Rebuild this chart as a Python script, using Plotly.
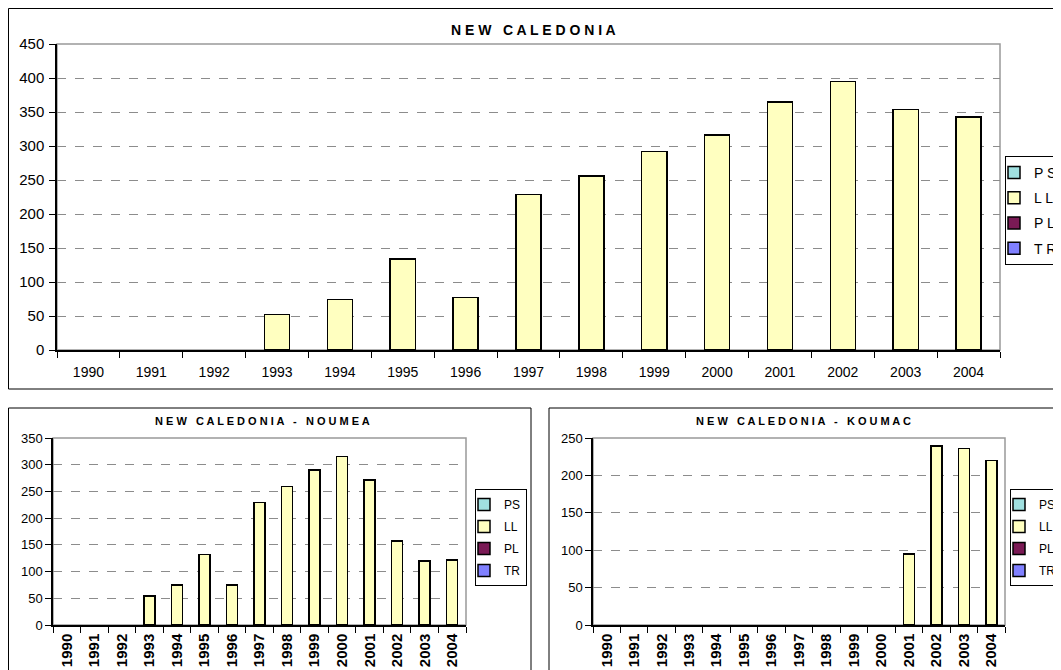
import plotly.graph_objects as go

W, H = 1061, 670
OFF = 8  # page offset of the figure inside the browser window

years = [str(y) for y in range(1990, 2005)]
series_names = ["PS", "LL", "PL", "TR"]
series_colors = ["#A0E0E0", "#FFFFC0", "#7A1A55", "#8080FF"]

nc_ll = [None, None, None, 52, 74, 134, 77, 229, 256, 292, 316, 365, 395, 354, 343]
noumea_ll = [None, None, None, 54, 75, 132, 75, 229, 259, 290, 315, 271, 157, 120, 122]
koumac_ll = [None] * 11 + [95, 239, 236, 220]
empty = [None] * 15

titles = ["N E W   C A L E D O N I A",
          "N E W   C A L E D O N I A   -   N O U M E A",
          "N E W   C A L E D O N I A   -   K O U M A C"]

def px_x(p):
    return (p - OFF) / W

def px_y(p):
    return 1 - (p - OFF) / H

fig = go.Figure()

panels = [
    ("", nc_ll, "legend", True, (57, 1000), (44, 350), 450),
    ("2", noumea_ll, "legend2", False, (53, 466), (438, 625), 350),
    ("3", koumac_ll, "legend3", False, (593, 1005), (438, 625), 250),
]

for suffix, ll, leg, spaced, xd, yd, ymax in panels:
    data = {"PS": empty, "LL": ll, "PL": empty, "TR": empty}
    for name, col in zip(series_names, series_colors):
        label = " ".join(name) if spaced else name
        fig.add_trace(go.Bar(
            x=years, y=data[name], name=label,
            marker=dict(color=col, line=dict(color="black", width=1.5)),
            xaxis="x" + suffix, yaxis="y" + suffix,
            legend=leg, legendgroup=leg + name,
            hoverinfo="skip",
        ))

layout = dict(
    width=W, height=H,
    margin=dict(l=0, r=0, t=0, b=0, autoexpand=False),
    paper_bgcolor="white", plot_bgcolor="white",
    barmode="stack", bargap=0.6,
    showlegend=True,
    font=dict(family="Liberation Sans, Arial, sans-serif", color="black"),
)

for i, (suffix, ll, leg, spaced, xd, yd, ymax) in enumerate(panels):
    top = suffix == ""
    xa = dict(
        domain=[px_x(xd[0]), px_x(xd[1])],
        anchor="y" + suffix,
        type="category",
        categoryorder="array", categoryarray=years,
        showline=True, linecolor="black", linewidth=1.5,
        ticks="outside", tickson="boundaries", ticklen=6, tickcolor="black", tickwidth=1,
        showgrid=False, zeroline=False, automargin=False,
        tickfont=dict(size=14 if top else 15, family="Liberation Sans, Arial, sans-serif",
                      color="black", weight="normal" if top else "bold"),
        tickangle=0 if top else -90,
        ticklabelstandoff=8 if top else 1,
    )
    ya = dict(
        domain=[px_y(yd[1]), px_y(yd[0])],
        anchor="x" + suffix,
        range=[0, ymax], dtick=50,
        showline=True, linecolor="black", linewidth=1.5,
        ticks="outside", ticklen=6, tickcolor="black",
        showgrid=True, gridcolor="#8c8c8c", griddash="dash", gridwidth=1,
        zeroline=False, automargin=False,
        tickfont=dict(size=15 if top else 13, color="black"),
        ticklabelstandoff=2 if top else 0,
    )
    layout["xaxis" + suffix] = xa
    layout["yaxis" + suffix] = ya

layout["legend"] = dict(
    x=px_x(1005), y=px_y(156), xanchor="left", yanchor="top",
    bordercolor="black", borderwidth=1, bgcolor="white",
    font=dict(size=14, color="black"), tracegroupgap=4,
    itemwidth=30, indentation=-12,
)
layout["legend2"] = dict(
    x=px_x(475), y=px_y(489), xanchor="left", yanchor="top",
    bordercolor="black", borderwidth=1, bgcolor="white",
    font=dict(size=12, color="black"), tracegroupgap=3,
    itemwidth=30, indentation=-12,
)
layout["legend3"] = dict(
    x=px_x(1010), y=px_y(489), xanchor="left", yanchor="top",
    bordercolor="black", borderwidth=1, bgcolor="white",
    font=dict(size=12, color="black"), tracegroupgap=3,
    itemwidth=30, indentation=-12,
)

shapes = []
shapes.append(dict(type="rect", xref="paper", yref="paper",
                   x0=px_x(8.5), x1=px_x(1075), y0=px_y(389), y1=px_y(8.5),
                   line=dict(color="black", width=1)))
shapes.append(dict(type="rect", xref="paper", yref="paper",
                   x0=px_x(8.5), x1=px_x(531), y0=px_y(690), y1=px_y(408),
                   line=dict(color="black", width=1)))
shapes.append(dict(type="rect", xref="paper", yref="paper",
                   x0=px_x(549), x1=px_x(1075), y0=px_y(690), y1=px_y(408),
                   line=dict(color="black", width=1)))
for suffix, *_ in panels:
    shapes.append(dict(type="rect", xref="x" + suffix + " domain", yref="y" + suffix + " domain",
                       x0=0, x1=1, y0=0, y1=1, layer="below",
                       line=dict(color="#999999", width=1.5)))
layout["shapes"] = shapes

annotations = [
    dict(text="<b>" + titles[0] + "</b>", x=px_x(533), y=px_y(30), xref="paper", yref="paper",
         showarrow=False, font=dict(size=14, color="black"), xanchor="center", yanchor="middle"),
    dict(text="<b>" + titles[1] + "</b>", x=px_x(262), y=px_y(421), xref="paper", yref="paper",
         showarrow=False, font=dict(size=11, color="black"), xanchor="center", yanchor="middle"),
    dict(text="<b>" + titles[2] + "</b>", x=px_x(803), y=px_y(421), xref="paper", yref="paper",
         showarrow=False, font=dict(size=11, color="black"), xanchor="center", yanchor="middle"),
]
layout["annotations"] = annotations

fig.update_layout(**layout)
fig.write_html("out.html")
